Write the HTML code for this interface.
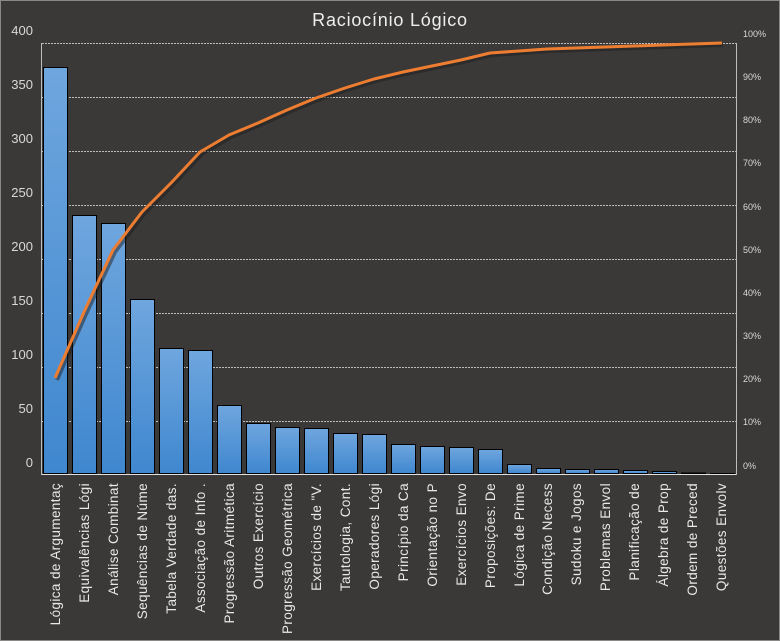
<!DOCTYPE html>
<html><head><meta charset="utf-8"><style>
html,body{margin:0;padding:0;background:#3a3938;}
svg{display:block;font-family:"Liberation Sans","DejaVu Sans",sans-serif;}
</style></head><body>
<svg width="780" height="641" xmlns="http://www.w3.org/2000/svg">
<defs><linearGradient id="g" x1="0" y1="0" x2="0" y2="1"><stop offset="0" stop-color="#6fa6de"/><stop offset="1" stop-color="#3f87cf"/></linearGradient></defs>
<rect x="0.5" y="0.5" width="779" height="640" fill="#3a3938" stroke="#8a8988"/>
<text x="390" y="26" fill="#eeeeee" font-size="18" text-anchor="middle" letter-spacing="0.8">Raciocínio Lógico</text>
<g stroke="#bdbdbd" stroke-width="1" stroke-dasharray="2,1">
<line x1="42" y1="43.5" x2="736" y2="43.5"/><line x1="42" y1="97.5" x2="736" y2="97.5"/><line x1="42" y1="151.5" x2="736" y2="151.5"/><line x1="42" y1="205.5" x2="736" y2="205.5"/><line x1="42" y1="259.5" x2="736" y2="259.5"/><line x1="42" y1="313.5" x2="736" y2="313.5"/><line x1="42" y1="367.5" x2="736" y2="367.5"/><line x1="42" y1="421.5" x2="736" y2="421.5"/>
</g>
<line x1="41.5" y1="43" x2="41.5" y2="475" stroke="#bdbdbd"/>
<line x1="736.5" y1="43" x2="736.5" y2="475" stroke="#bdbdbd"/>
<g fill="#d8d8d8" font-size="13" text-anchor="end">
<text x="33" y="35">400</text><text x="33" y="89">350</text><text x="33" y="143">300</text><text x="33" y="197">250</text><text x="33" y="251">200</text><text x="33" y="305">150</text><text x="33" y="359">100</text><text x="33" y="413">50</text><text x="33" y="467">0</text>
</g>
<g fill="#d8d8d8" font-size="9">
<text x="743" y="37">100%</text><text x="743" y="80">90%</text><text x="743" y="123">80%</text><text x="743" y="166">70%</text><text x="743" y="210">60%</text><text x="743" y="253">50%</text><text x="743" y="296">40%</text><text x="743" y="339">30%</text><text x="743" y="382">20%</text><text x="743" y="425">10%</text><text x="743" y="469">0%</text>
</g>
<g fill="url(#g)" stroke="#000" stroke-width="1">
<rect x="43.5" y="67.5" width="24" height="406"/>
<rect x="72.5" y="215.5" width="24" height="258"/>
<rect x="101.5" y="223.5" width="24" height="250"/>
<rect x="130.5" y="299.5" width="24" height="174"/>
<rect x="159.5" y="348.5" width="24" height="125"/>
<rect x="188.5" y="350.5" width="24" height="123"/>
<rect x="217.5" y="405.5" width="24" height="68"/>
<rect x="246.5" y="423.5" width="24" height="50"/>
<rect x="275.5" y="427.5" width="24" height="46"/>
<rect x="304.5" y="428.5" width="24" height="45"/>
<rect x="333.5" y="433.5" width="24" height="40"/>
<rect x="362.5" y="434.5" width="24" height="39"/>
<rect x="391.5" y="444.5" width="24" height="29"/>
<rect x="420.5" y="446.5" width="24" height="27"/>
<rect x="449.5" y="447.5" width="24" height="26"/>
<rect x="478.5" y="449.5" width="24" height="24"/>
<rect x="507.5" y="464.5" width="24" height="9"/>
<rect x="536.5" y="468.5" width="24" height="5"/>
<rect x="565.5" y="469.5" width="24" height="4"/>
<rect x="594.5" y="469.5" width="24" height="4"/>
<rect x="623.5" y="470.5" width="24" height="3"/>
<rect x="652.5" y="471.5" width="24" height="2"/>
<rect x="681.5" y="473" width="24" height="1"/>
<rect x="710.5" y="473.5" width="24" height="0.5"/>
</g>
<line x1="42" y1="474.5" x2="736" y2="474.5" stroke="#e0e0e0"/>
<polyline fill="none" stroke="#1e1e1e" stroke-opacity="0.5" stroke-width="4" stroke-linejoin="round" points="57,380 86,314 115,252 144,214 173,185 202,154 231,137 260,125 289,112 318,100 347,90 376,81 405,74 434,68 463,62 492,55 521,53 549,51 578,50 607,49 636,48 665,47 694,46 723,45"/>
<polyline fill="none" stroke="#ed7d31" stroke-width="3" stroke-linejoin="round" points="55,378 84,312 113,250 142,212 171,183 200,152 229,135 258,123 287,110 316,98 345,88 374,79 403,72 432,66 461,60 490,53 519,51 547,49 576,48 605,47 634,46 663,45 692,44 722,43"/>
<g fill="#e8e8e8" font-size="13.5" text-anchor="end" letter-spacing="0.4">
<text transform="translate(60,483) rotate(-90)">Lógica de Argumentaç</text>
<text transform="translate(89,483) rotate(-90)">Equivalências Lógi</text>
<text transform="translate(118,483) rotate(-90)">Análise Combinat</text>
<text transform="translate(147,483) rotate(-90)">Sequências de Núme</text>
<text transform="translate(176,483) rotate(-90)">Tabela Verdade das.</text>
<text transform="translate(205,483) rotate(-90)">Associação de Info .</text>
<text transform="translate(234,483) rotate(-90)">Progressão Aritmética</text>
<text transform="translate(263,483) rotate(-90)">Outros Exercício</text>
<text transform="translate(292,483) rotate(-90)">Progressão Geométrica</text>
<text transform="translate(321,483) rotate(-90)">Exercícios de "V.</text>
<text transform="translate(350,483) rotate(-90)">Tautologia, Cont.</text>
<text transform="translate(379,483) rotate(-90)">Operadores Lógi</text>
<text transform="translate(408,483) rotate(-90)">Princípio da Ca</text>
<text transform="translate(437,483) rotate(-90)">Orientação no P</text>
<text transform="translate(466,483) rotate(-90)">Exercícios Envo</text>
<text transform="translate(495,483) rotate(-90)">Proposições: De</text>
<text transform="translate(524,483) rotate(-90)">Lógica de Prime</text>
<text transform="translate(552,483) rotate(-90)">Condição Necess</text>
<text transform="translate(581,483) rotate(-90)">Sudoku e Jogos</text>
<text transform="translate(610,483) rotate(-90)">Problemas Envol</text>
<text transform="translate(639,483) rotate(-90)">Planificação de</text>
<text transform="translate(668,483) rotate(-90)">Álgebra de Prop</text>
<text transform="translate(697,483) rotate(-90)">Ordem de Preced</text>
<text transform="translate(726,483) rotate(-90)">Questões Envolv</text>
</g>
</svg>
</body></html>
